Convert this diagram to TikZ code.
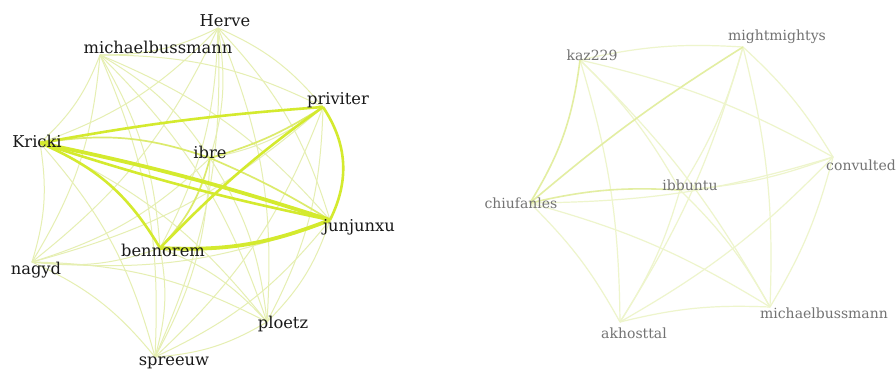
\documentclass[tikz,border=0pt]{standalone}
\usepackage{fontspec}
\setmainfont{DejaVu Serif}
\usetikzlibrary{backgrounds}
\definecolor{edgeF}{HTML}{E6EFB2}
\definecolor{edgeM}{HTML}{DCEB6C}
\definecolor{edgeT}{HTML}{D4EA2E}
\definecolor{edgeR}{HTML}{EEF5CC}
\definecolor{edgeR2}{HTML}{E3EEA2}
\tikzset{
  faint/.style={draw=edgeF, line width=1pt},
  medium/.style={draw=edgeM, line width=1.7pt},
  thick2/.style={draw=edgeT, line width=2.6pt},
  thick3/.style={draw=edgeT, line width=3.8pt},
  rfaint/.style={draw=edgeR, line width=1.2pt},
  rmed/.style={draw=edgeR2, line width=1.6pt},
  lab/.style={font=\fontsize{16.3}{17}\selectfont, text=black!90, inner sep=0pt},
  rlab/.style={font=\fontsize{14}{15}\selectfont, text=black!55, inner sep=0pt},
}
\begin{document}
\begin{tikzpicture}[x=1pt,y=-1pt]
\useasboundingbox (0,0) rectangle (896,372);
\fill[white] (0,0) rectangle (896,372);
% left graph points
\coordinate (H) at (218,28);
\coordinate (M) at (100,55);
\coordinate (P) at (323,107);
\coordinate (K) at (40,143);
\coordinate (I) at (210,158);
\coordinate (J) at (330,220);
\coordinate (B) at (160,248);
\coordinate (N) at (32,262);
\coordinate (L) at (267,322);
\coordinate (S) at (155,357);
% right graph points
\coordinate (k2) at (580,60);
\coordinate (m2) at (743,47);
\coordinate (c2) at (833,157);
\coordinate (u2) at (680,190);
\coordinate (f2) at (530,203);
\coordinate (b2) at (770,307);
\coordinate (a2) at (620,322);
% faint edges left
\foreach \a/\b in {H/M,H/P,H/K,H/I,H/J,H/B,H/N,H/L,H/S,
  M/P,M/K,M/I,M/J,M/B,M/N,M/L,M/S,
  P/I,P/N,P/L,P/S,
  K/N,K/L,K/S,
  I/N,I/L,I/S,
  J/N,J/L,J/S,
  B/N,B/L,B/S,
  N/L,N/S,L/S}
  {\draw[faint] (\a) to[bend left=13] (\b);}
% medium / thick edges left
\draw[medium] (K) to[bend left=14] (I);
\draw[medium] (I) to[bend left=14] (B);
\draw[medium] (I) to[bend left=4] (J);
\draw[medium] (I) to[bend right=8] (P);
\draw[thick2] (K) to[bend left=3] (P);
\draw[thick2] (B) to[bend left=5] (P);
\draw[thick2] (K) to[bend left=18] (B);
\draw[thick2] (P) to[bend left=30] (J);
\draw[thick3] (B) to[bend right=12] (J);
\draw[thick3] (K) to[bend left=3] (J);
\draw[thick2] (K) to[bend right=3] (J);
% right edges
\foreach \a/\b in {k2/m2,k2/u2,k2/c2,k2/a2,k2/b2,
  m2/u2,m2/c2,m2/b2,m2/a2,
  c2/u2,c2/b2,c2/a2,c2/f2,
  u2/a2,u2/b2,
  f2/a2,f2/b2,a2/b2}
  {\draw[rfaint] (\a) to[bend left=8] (\b);}
\draw[rmed] (f2) to[bend right=12] (k2);
\draw[rmed] (f2) to[bend left=4] (m2);
\draw[rmed] (f2) to[bend left=8] (u2);
% labels left
\node[lab] (Hl) at (225,21) {Herve};
\node[lab] (Ml) at (158,47) {michaelbussmann};
\node[lab] (Pl) at (338,100) {priviter};
\node[lab] (Kl) at (37,141) {Kricki};
\node[lab] (Il) at (210,152) {ibre};
\node[lab] (Jl) at (359,227) {junjunxu};
\node[lab] (Bl) at (163,250) {bennorem};
\node[lab] (Nl) at (36,270) {nagyd};
\node[lab] (Ll) at (283,324) {ploetz};
\node[lab] (Sl) at (174,363) {spreeuw};
% labels right
\node[rlab] (k2l) at (592,55) {kaz229};
\node[rlab] (m2l) at (777,37) {mightmightys};
\node[rlab] (c2l) at (861,165) {convulted};
\node[rlab] (u2l) at (690,185) {ibbuntu};
\node[rlab] (f2l) at (521,203) {chiufanles};
\node[rlab] (b2l) at (824,313) {michaelbussmann};
\node[rlab] (a2l) at (634,333) {akhosttal};
\end{tikzpicture}
\end{document}
